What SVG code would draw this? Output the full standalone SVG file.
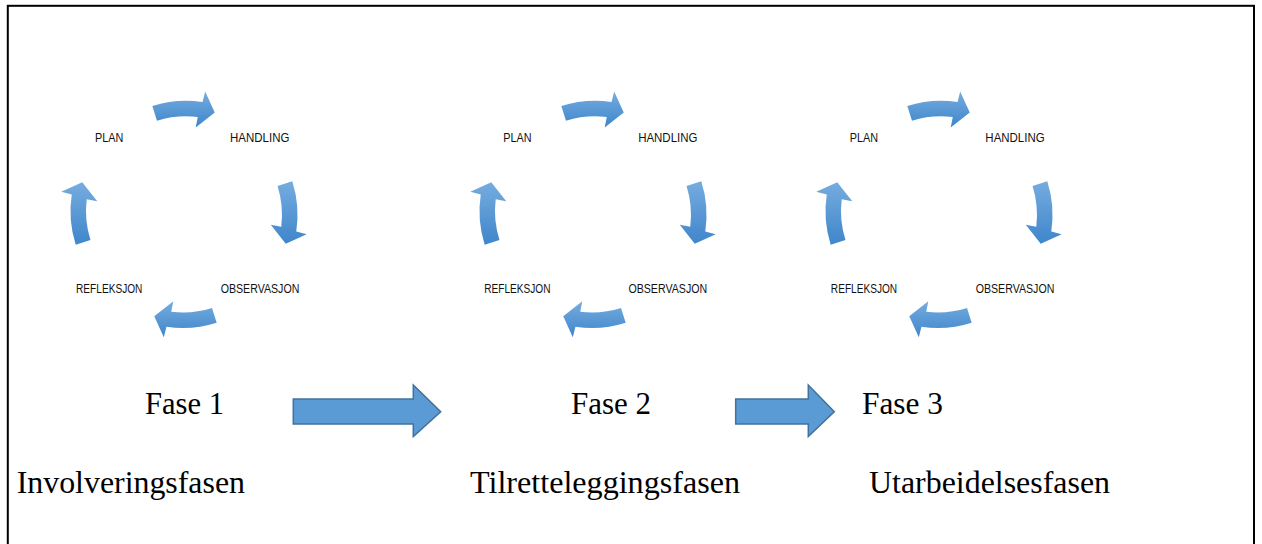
<svg xmlns="http://www.w3.org/2000/svg" xmlns:xlink="http://www.w3.org/1999/xlink" width="1262" height="544" viewBox="0 0 1262 544">
<style>
.lbl{font-family:"Liberation Sans",Arial,sans-serif;font-size:12px;fill:#111;text-anchor:middle}
.big{font-family:"Liberation Serif","Times New Roman",serif;font-size:31px;fill:#000}
.carr{fill:url(#g)}
.bigarr{fill:#5b9bd5;stroke:#41719c;stroke-width:1.5}
</style>
<defs>
<linearGradient id="g" x1="0" y1="0" x2="0" y2="1">
<stop offset="0" stop-color="#76acdf"/>
<stop offset="1" stop-color="#3f86cb"/>
</linearGradient>
<path id="aTop" class="carr" transform="translate(0,-0.8)" d="M -33.68 -106.81 A 112 112 0 0 1 16.55 -110.77 L 19.19 -121.19 L 28.75 -100.26 L 9.71 -85.25 L 11.76 -95.78 A 96.5 96.5 0 0 0 -29.02 -92.03 Z"/>
<path id="aRight" class="carr" transform="translate(-0.5,1.5)" d="M 106.81 -33.68 A 112 112 0 0 1 110.77 16.55 L 121.19 19.19 L 100.26 28.75 L 85.25 9.71 L 95.78 11.76 A 96.5 96.5 0 0 0 92.03 -29.02 Z"/>
<path id="aBottom" class="carr" transform="translate(-3,2.5)" d="M 33.68 106.81 A 112 112 0 0 1 -16.55 110.77 L -19.19 121.19 L -28.75 100.26 L -9.71 85.25 L -11.76 95.78 A 96.5 96.5 0 0 0 29.02 92.03 Z"/>
<path id="aLeft" class="carr" transform="translate(-3.5,-2.5)" d="M -106.81 33.68 A 112 112 0 0 1 -110.77 -16.55 L -121.19 -19.19 L -100.26 -28.75 L -85.25 -9.71 L -95.78 -11.76 A 96.5 96.5 0 0 0 -92.03 29.02 Z"/>
</defs>
<rect x="0" y="0" width="1262" height="544" fill="#fff"/>
<rect x="7.8" y="5.8" width="1246.2" height="600" fill="none" stroke="#000" stroke-width="2"/>

<g id="cycle1" transform="translate(186,213.5)">
<g id="c1-arrows">
<use xlink:href="#aTop"/><use xlink:href="#aRight"/><use xlink:href="#aBottom"/><use xlink:href="#aLeft"/>
</g>
<g id="c1-plan"><text class="lbl" x="-76.8" y="-71.8" textLength="28.3" lengthAdjust="spacingAndGlyphs">PLAN</text></g>
<g id="c1-handling"><text class="lbl" x="73.7" y="-71.5" textLength="59.3" lengthAdjust="spacingAndGlyphs">HANDLING</text></g>
<g id="c1-observasjon"><text class="lbl" x="74" y="79.8" textLength="78.7" lengthAdjust="spacingAndGlyphs">OBSERVASJON</text></g>
<g id="c1-refleksjon"><text class="lbl" x="-76.8" y="79.8" textLength="66.3" lengthAdjust="spacingAndGlyphs">REFLEKSJON</text></g>
</g>

<g id="cycle2" transform="translate(595,213.5)">
<g id="c2-arrows">
<use xlink:href="#aTop"/><use xlink:href="#aRight"/><use xlink:href="#aBottom"/><use xlink:href="#aLeft"/>
</g>
<g id="c2-plan"><text class="lbl" x="-77.5" y="-71.8" textLength="28.3" lengthAdjust="spacingAndGlyphs">PLAN</text></g>
<g id="c2-handling"><text class="lbl" x="72.8" y="-71.8" textLength="59.3" lengthAdjust="spacingAndGlyphs">HANDLING</text></g>
<g id="c2-observasjon"><text class="lbl" x="72.8" y="79" textLength="78.7" lengthAdjust="spacingAndGlyphs">OBSERVASJON</text></g>
<g id="c2-refleksjon"><text class="lbl" x="-77.7" y="79" textLength="66.3" lengthAdjust="spacingAndGlyphs">REFLEKSJON</text></g>
</g>

<g id="cycle3" transform="translate(941,213.5)">
<g id="c3-arrows">
<use xlink:href="#aTop"/><use xlink:href="#aRight"/><use xlink:href="#aBottom"/><use xlink:href="#aLeft"/>
</g>
<g id="c3-plan"><text class="lbl" x="-77" y="-71.8" textLength="28.3" lengthAdjust="spacingAndGlyphs">PLAN</text></g>
<g id="c3-handling"><text class="lbl" x="74" y="-71.8" textLength="59.3" lengthAdjust="spacingAndGlyphs">HANDLING</text></g>
<g id="c3-observasjon"><text class="lbl" x="74" y="79" textLength="78.7" lengthAdjust="spacingAndGlyphs">OBSERVASJON</text></g>
<g id="c3-refleksjon"><text class="lbl" x="-77" y="79" textLength="66.3" lengthAdjust="spacingAndGlyphs">REFLEKSJON</text></g>
</g>

<g id="connectors">
<path id="arrow1" class="bigarr" d="M 293.3 399 H 413.3 V 385 L 440.7 411.7 L 413.3 436.5 V 424 H 293.3 Z"/>
<path id="arrow2" class="bigarr" d="M 735.7 399 H 808.3 V 385 L 834.3 411.7 L 808.3 436.5 V 424 H 735.7 Z"/>
</g>

<g id="fase1"><text class="big" x="145" y="414.3" textLength="79" lengthAdjust="spacingAndGlyphs">Fase 1</text></g>
<g id="fase2"><text class="big" x="571" y="414.3" textLength="80" lengthAdjust="spacingAndGlyphs">Fase 2</text></g>
<g id="fase3"><text class="big" x="862" y="414.3" textLength="81" lengthAdjust="spacingAndGlyphs">Fase 3</text></g>
<g id="phase1-name"><text class="big" x="16.7" y="493.3" textLength="228.3" lengthAdjust="spacingAndGlyphs">Involveringsfasen</text></g>
<g id="phase2-name"><text class="big" x="470" y="493.3" textLength="270" lengthAdjust="spacingAndGlyphs">Tilretteleggingsfasen</text></g>
<g id="phase3-name"><text class="big" x="869" y="493.3" textLength="241" lengthAdjust="spacingAndGlyphs">Utarbeidelsesfasen</text></g>
</svg>
